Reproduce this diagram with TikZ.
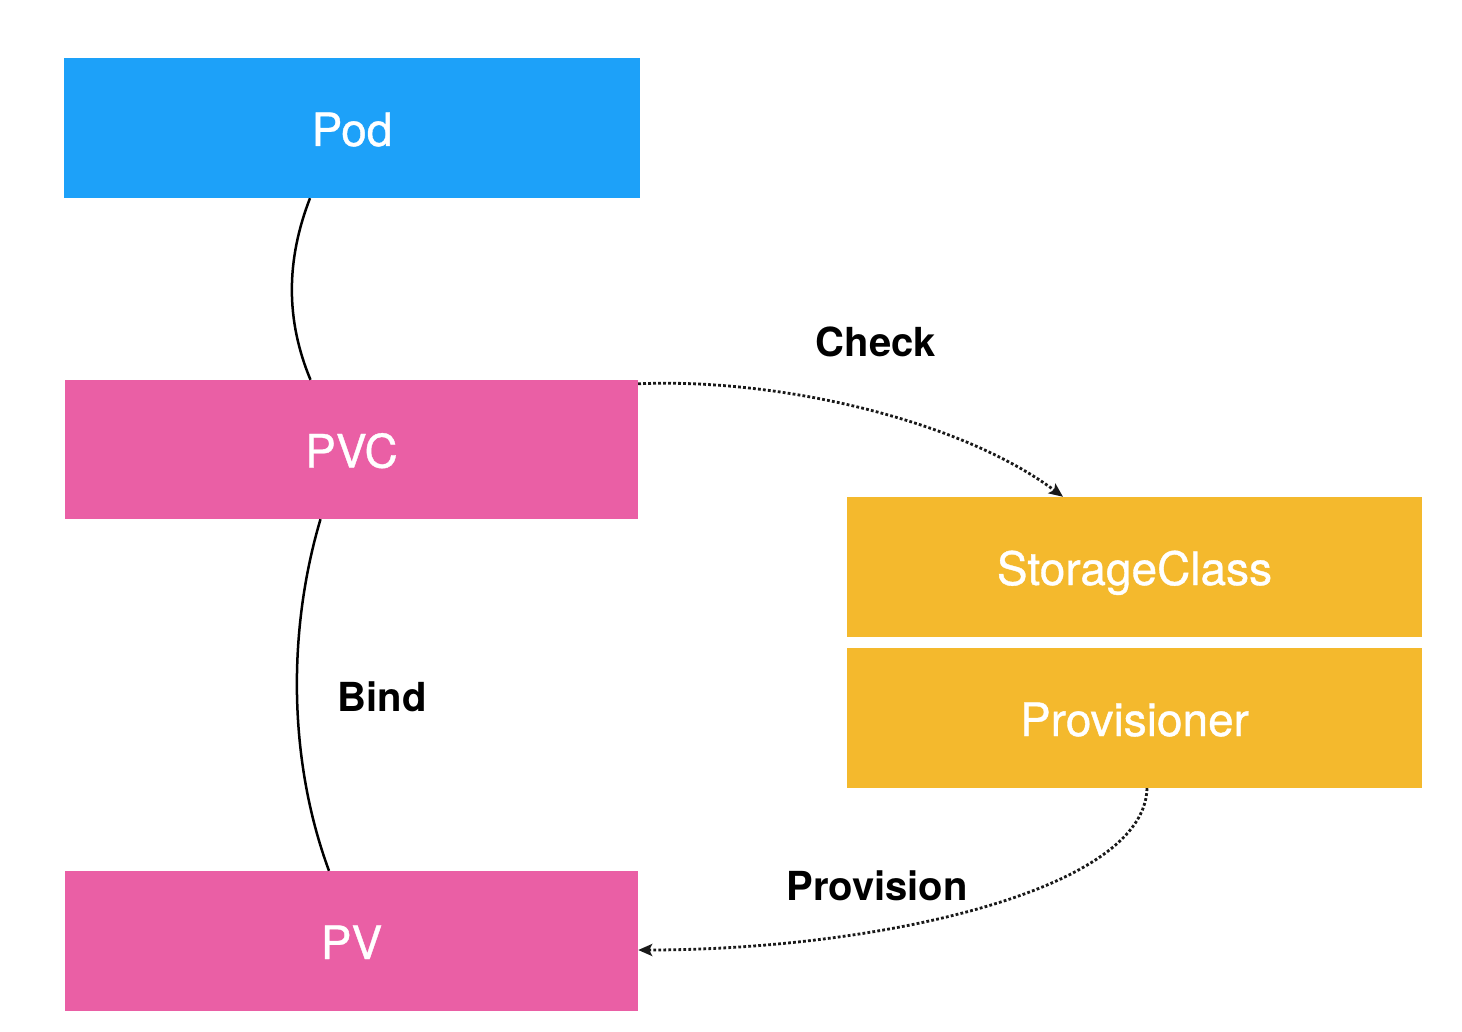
\documentclass[tikz,border=0pt]{standalone}
\usepackage{fontspec}
\setmainfont{TeX Gyre Heros}
\usetikzlibrary{arrows.meta}
\definecolor{podblue}{HTML}{1DA1F9}
\definecolor{pvpink}{HTML}{EA5FA5}
\definecolor{scorange}{HTML}{F4B92D}
\begin{document}
\begin{tikzpicture}[x=1pt,y=-1pt,
  box/.style={rectangle,minimum width=575pt,minimum height=140pt,inner sep=0pt,
    text=white,text height=36pt,text depth=0pt,
    font=\fontsize{46}{50}\selectfont\addfontfeature{FakeBold=0.8}},
  lbl/.style={font=\bfseries\fontsize{40}{46}\selectfont,text=black,inner sep=0pt},
  link/.style={line width=2.5pt,black},
  dots/.style={line width=2.8pt,black!90,dash pattern=on 2.8pt off 2.2pt,
    -{Stealth[length=14pt,width=12pt,inset=3pt]}}]
\useasboundingbox[fill=white] (0,0) rectangle (1462,1032);
\node[box,fill=podblue,minimum width=576pt] (pod) at (352,128) {Pod};
\node[box,fill=pvpink,minimum width=573pt,minimum height=139pt] (pvc) at (351.5,449.5) {PVC};
\node[box,fill=pvpink,minimum width=573pt] (pv) at (351.5,941) {PV};
\node[box,fill=scorange] (sc) at (1134.5,567) {StorageClass};
\node[box,fill=scorange] (prov) at (1134.5,718) {Provisioner};
\node[lbl] (check) at (876,342) {Check};
\node[lbl] (bind) at (382,697) {Bind};
\node[lbl] (provision) at (877,886) {Provision};
\draw[link] ([xshift=-42pt]pod.south) .. controls +(-24,62) and +(-25,-60) .. ([xshift=-41pt]pvc.north);
\draw[link] ([xshift=-31pt]pvc.south) .. controls +(-33,111) and +(-41,-111) .. ([xshift=-22.5pt]pv.north);
\draw[dots] ([yshift=-4pt]pvc.north east) .. controls +(140,-6) and +(-103,-77) .. ([xshift=-71.5pt]sc.north);
\draw[dots] ([xshift=12.5pt]prov.south) .. controls +(-2,102) and +(240,0) .. ([yshift=-9pt]pv.east);
\end{tikzpicture}
\end{document}
